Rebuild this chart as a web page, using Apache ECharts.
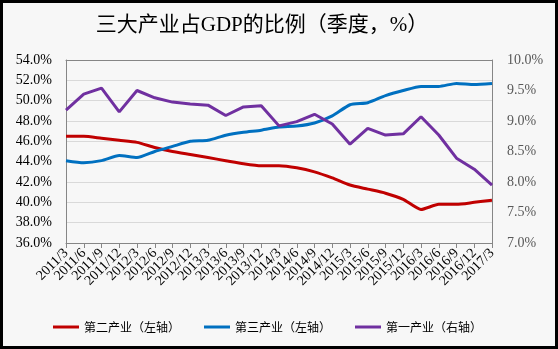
<!DOCTYPE html>
<html><head><meta charset="utf-8">
<script src="https://cdn.jsdelivr.net/npm/echarts@6/dist/echarts.min.js"></script>
<style>html,body{margin:0;padding:0;background:#f7f7f7}#c{width:558px;height:349px}</style>
</head><body><div id="c"></div>
<script>
const categories = ['2011/3','2011/6','2011/9','2011/12','2012/3','2012/6','2012/9','2012/12','2013/3','2013/6','2013/9','2013/12','2014/3','2014/6','2014/9','2014/12','2015/3','2015/6','2015/9','2015/12','2016/3','2016/6','2016/9','2016/12','2017/3'];
const secondary = [46.5,46.5,46.3,46.1,45.9,45.4,45.0,44.7,44.4,44.1,43.8,43.6,43.6,43.4,43.0,42.4,41.7,41.3,40.9,40.3,39.3,39.8,39.8,40.0,40.2];
const tertiary = [44.1,43.9,44.1,44.6,44.4,45.0,45.5,46.0,46.1,46.6,46.9,47.1,47.4,47.5,47.8,48.5,49.6,49.8,50.5,51.0,51.4,51.4,51.7,51.6,51.7];
const primary = [9.18,9.44,9.54,9.15,9.50,9.38,9.31,9.28,9.26,9.09,9.23,9.25,8.92,8.99,9.11,8.95,8.62,8.88,8.77,8.79,9.07,8.77,8.39,8.21,7.95];
const seriesNames = ['第二产业（左轴）','第三产业（左轴）','第一产业（右轴）'];
const colors = ['#c00000','#0070c0','#7030a0'];

const chart = echarts.init(document.getElementById('c'));
const serif = '"Liberation Serif","Noto Sans CJK SC",serif';
chart.setOption({
  backgroundColor: '#f7f7f7',
  animation: false,
  title: {
    text: '三大产业占GDP的比例（季度，%）',
    left: 257, top: 10, textAlign: 'center',
    textStyle: {fontSize: 21, fontWeight: 'normal', color: '#000', fontFamily: serif}
  },
  legend: {
    left: 48, top: 316, itemWidth: 26, itemHeight: 3, itemGap: 24, icon: 'rect',
    textStyle: {fontSize: 12, color: '#000', fontFamily: '"Noto Sans CJK SC",sans-serif'},
    data: seriesNames
  },
  grid: {left: 66, right: 66, top: 60, bottom: 106},
  xAxis: [{
    type: 'category', data: categories, boundaryGap: false,
    axisLine: {lineStyle: {color: '#868686'}},
    axisTick: {show: true, length: 5, lineStyle: {color: '#868686'}},
    axisLabel: {interval: 0, rotate: 45, fontSize: 14, color: '#000', fontFamily: serif, margin: 8}
  },{
    type: 'category', data: categories, boundaryGap: false, position: 'top',
    axisLine: {show: true, lineStyle: {color: '#868686'}},
    axisTick: {show: false}, axisLabel: {show: false}
  }],
  yAxis: [{
    type: 'value', min: 36, max: 54, interval: 2,
    axisLine: {show: true, lineStyle: {color: '#868686'}},
    axisTick: {show: false},
    splitLine: {lineStyle: {color: '#d9d9d9'}},
    axisLabel: {formatter: v => v.toFixed(1) + '%', fontSize: 14, color: '#000', fontFamily: serif, margin: 14}
  },{
    type: 'value', min: 7, max: 10, interval: 0.5, position: 'right',
    axisLine: {show: true, lineStyle: {color: '#868686'}},
    axisTick: {show: false},
    splitLine: {show: false},
    axisLabel: {formatter: v => v.toFixed(1) + '%', fontSize: 14, color: '#595959', fontFamily: serif, margin: 15}
  }],
  series: [
    {name: seriesNames[0], type: 'line', data: secondary, yAxisIndex: 0, showSymbol: false, smooth: 0.2, lineStyle: {width: 3, color: colors[0]}, itemStyle: {color: colors[0]}},
    {name: seriesNames[1], type: 'line', data: tertiary, yAxisIndex: 0, showSymbol: false, smooth: 0.2, lineStyle: {width: 3, color: colors[1]}, itemStyle: {color: colors[1]}},
    {name: seriesNames[2], type: 'line', data: primary, yAxisIndex: 1, showSymbol: false, lineStyle: {width: 3, color: colors[2]}, itemStyle: {color: colors[2]}}
  ],
  graphic: [{type: 'rect', shape: {x: 1.5, y: 1.5, width: 555, height: 346}, style: {fill: 'none', stroke: '#000', lineWidth: 3}, silent: true}]
});
</script></body></html>
